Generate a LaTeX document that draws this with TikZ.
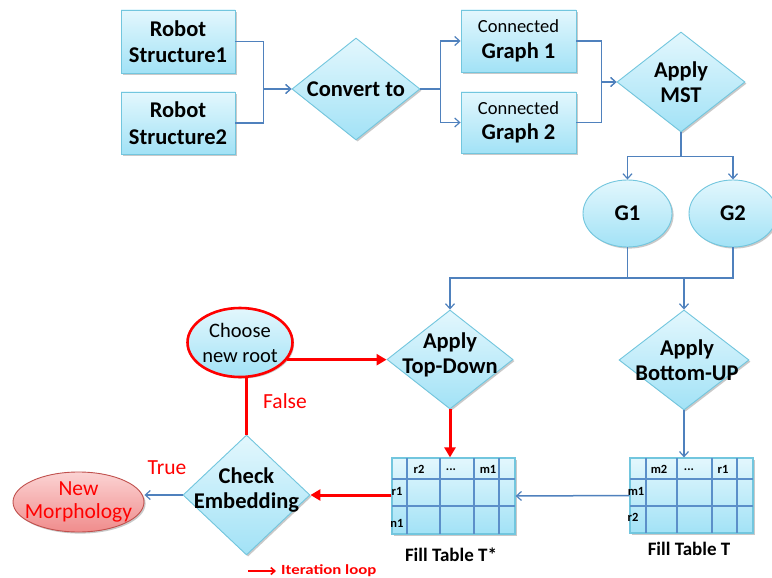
\documentclass[tikz,border=0pt]{standalone}
\usepackage{fontspec}
\setmainfont{Carlito}
\usetikzlibrary{arrows.meta,shapes.geometric,shadows}
\definecolor{bfill1}{HTML}{E3F7FD}
\definecolor{bfill2}{HTML}{A2E2F6}
\definecolor{bline}{HTML}{72C6DE}
\definecolor{conn}{HTML}{4F81BD}
\definecolor{tgrid}{HTML}{5B8FC9}
\definecolor{pk1}{HTML}{FBD3D3}
\definecolor{pk2}{HTML}{F08C8C}
\definecolor{pkline}{HTML}{C0504D}
\tikzset{
  shp/.style={draw=bline, line width=0.9pt, top color=bfill1, bottom color=bfill2, inner sep=0pt,
     drop shadow={shadow xshift=1.6pt, shadow yshift=-1.6pt, opacity=0.35, fill=black!60}},
  boxn/.style={shp, rectangle, align=center, font=\fontsize{22.5}{26.5}\selectfont\bfseries},
  dia/.style={shp, diamond},
  ell/.style={shp, ellipse},
  lbl/.style={align=center, font=\fontsize{22.5}{25}\selectfont\bfseries, inner sep=0pt},
  bl/.style={draw=conn, line width=1.5pt},
  bla/.style={bl, -{Straight Barb[length=5pt,width=9pt,line width=1.2pt]}},
  rd/.style={draw=red, line width=3pt},
  rda/.style={rd, -{Triangle[length=10pt,width=11pt]}},
  tcell/.style={font=\fontsize{12.5}{12}\selectfont\bfseries, inner sep=0pt},
  tabn/.style={shp, rectangle, draw=bline, line width=1.2pt},
  redtxt/.style={text=red, font=\fontsize{21.5}{24}\selectfont, inner sep=0pt},
}
\begin{document}
\begin{tikzpicture}[x=1pt,y=-1pt]
\useasboundingbox (0,0) rectangle (772,578);
\fill[white] (0,0) rectangle (772,578);

% top row
\node[boxn, minimum width=114pt, minimum height=63pt] (r1) at (178,41.5) {Robot\\Structure1};
\node[boxn, minimum width=114pt, minimum height=62pt] (r2) at (178,123) {Robot\\Structure2};
\node[dia, minimum width=128pt, minimum height=102pt, label={[lbl]center:Convert to}] (conv) at (356,89) {};
\node[boxn, minimum width=115pt, minimum height=62pt] (g1) at (518.5,41)
  {{\fontsize{18.5}{20}\selectfont\mdseries Connected}\\[-1pt]Graph 1};
\node[boxn, minimum width=115pt, minimum height=61pt] (g2) at (518.5,122.5)
  {{\fontsize{18.5}{20}\selectfont\mdseries Connected}\\[-1pt]Graph 2};
\node[dia, minimum width=128pt, minimum height=100pt, label={[lbl]center:Apply\\MST}] (mst) at (681,82) {};

% G1, G2
\node[ell, minimum width=89pt, minimum height=67pt, font=\fontsize{22.5}{25}\selectfont\bfseries] (e1) at (627.5,213.5) {G1};
\node[ell, minimum width=88pt, minimum height=67pt, font=\fontsize{22.5}{25}\selectfont\bfseries] (e2) at (733,213.5) {G2};

% middle
\node[ell, draw=red, line width=2.6pt, minimum width=105pt, minimum height=69pt,
  label={[align=center, font=\fontsize{20.5}{25}\selectfont, inner sep=0pt]center:Choose\\new root}] (cnr) at (240,342.5) {};
\node[dia, minimum width=126pt, minimum height=99pt,
  label={[lbl, yshift=5pt]center:Apply\\Top-Down}] (td) at (450,359.5) {};
\node[dia, minimum width=130pt, minimum height=100pt,
  label={[lbl, xshift=3pt]center:Apply\\Bottom-UP}] (bu) at (684,360) {};

% bottom
\node[dia, minimum width=127pt, minimum height=120pt,
  label={[lbl, yshift=5pt]center:Check\\Embedding}] (chk) at (246.5,495) {};
\node[ell, draw=pkline, line width=0.9pt, top color=pk1, bottom color=pk2, minimum width=131pt, minimum height=60pt,
  label={[align=center, text=red, font=\fontsize{21.5}{23}\selectfont, inner sep=0pt]center:New\\Morphology}] (nm) at (78.5,502) {};

% tables
\node[tabn, minimum width=123pt, minimum height=76pt] (ts) at (453.5,496) {};
\draw[tgrid, line width=1.1pt] (407,458) -- (407,534) (440,458) -- (440,534) (474,458) -- (474,534) (499,458) -- (499,534)
   (392,479) -- (515,479) (392,506) -- (515,506);
\node[tcell] (ts1) at (419,469) {r2};
\node[tcell] (ts2) at (451,470) {...};
\node[tcell] (ts3) at (488,469) {m1};
\node[tcell] (ts4) at (397,491) {r1};
\node[tcell] (ts5) at (397,523) {n1};
\node[font=\fontsize{19}{20}\selectfont\bfseries, inner sep=0pt] (tsl) at (451,555) {Fill Table T*};

\node[tabn, minimum width=123pt, minimum height=75pt] (tt) at (691.5,495.5) {};
\draw[tgrid, line width=1.1pt] (646,458) -- (646,533) (677,458) -- (677,533) (712,458) -- (712,533) (737,458) -- (737,533)
   (630,479) -- (753,479) (630,506) -- (753,506);
\node[tcell] (tt1) at (659,469) {m2};
\node[tcell] (tt2) at (689,470) {...};
\node[tcell] (tt3) at (723,469) {r1};
\node[tcell] (tt4) at (636,491) {m1};
\node[tcell] (tt5) at (633,517) {r2};
\node[font=\fontsize{19}{20}\selectfont\bfseries, inner sep=0pt] (ttl) at (689,549) {Fill Table T};

% blue connectors
\draw[bla] (r1.east) -- ++(28,0) |- (conv.west);
\draw[bla] (r2.east) -- ++(28,0) |- (conv.west);
\draw[bla] (conv.east) -- ++(20,0) |- (g1.west);
\draw[bla] (conv.east) -- ++(20,0) |- (g2.west);
\draw[bla] (g1.east) -- ++(25,0) |- (mst.west);
\draw[bla] (g2.east) -- ++(25,0) |- (mst.west);
\draw[bla] (mst.south) -- ++(0,24) -| (e1.north);
\draw[bla] (mst.south) -- ++(0,24) -| (e2.north);
\coordinate (j) at (684,278);
\draw[bla] (e1.south) -- (e1.south |- j) -| (td.north);
\draw[bl] (e2.south) |- (e1.south |- j);
\draw[bla] (j) -- (bu.north);
\draw[bla] (bu.south) -- (bu.south |- tt.north);
\draw[bla] (tt.west) -- (ts.east);
\draw[bla] (chk.west) -- (chk.west -| nm.east);

% red connectors
\draw[rda] (cnr.-20) -- (cnr.-20 -| td.west);
\draw[rd] (chk.north) -- (chk.north |- cnr.south);
\draw[rda] (td.south) -- (td.south |- ts.north);
\draw[rda] (chk.east -| ts.west) -- (chk.east);

% labels
\node[redtxt] (fl) at (285,401) {False};
\node[redtxt] (tr) at (167,468) {True};

% legend
\coordinate (lg) at (248,571);
\node[anchor=west, text=red, font=\fontsize{14}{14}\selectfont\bfseries, inner sep=0pt, xscale=1.2] (lgt) at (281,571) {Iteration loop};
\draw[draw=red, line width=1.6pt, -{Straight Barb[length=4pt,width=7pt]}] (lg) -- ([xshift=-5pt]lgt.west);
\end{tikzpicture}
\end{document}
